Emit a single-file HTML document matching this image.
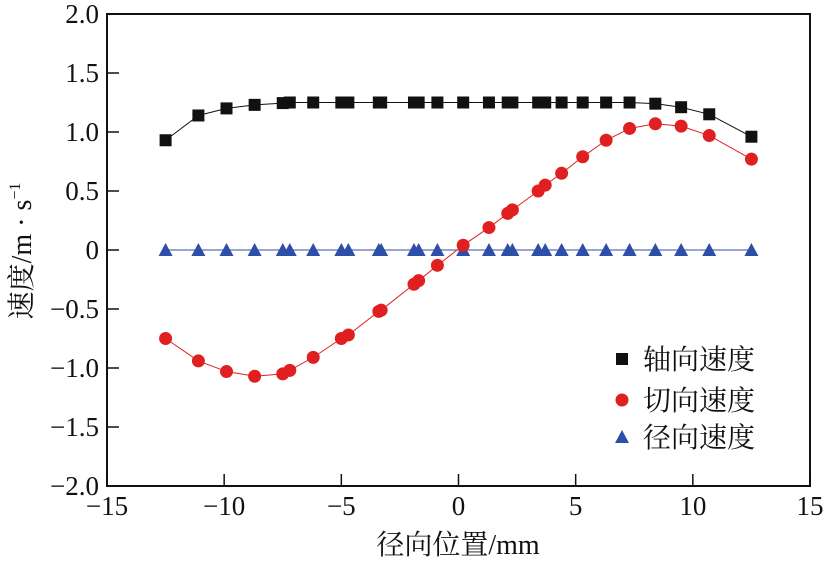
<!DOCTYPE html>
<html><head><meta charset="utf-8">
<style>
body{margin:0;background:#fff;}
text{font-family:"Liberation Serif","Noto Serif CJK SC",serif;fill:#111;}
</style></head>
<body>
<svg id="chart" width="827" height="563" xmlns="http://www.w3.org/2000/svg"></svg>
<script>
const xs=[-12.5,-11.1,-9.9,-8.7,-7.5,-7.2,-6.2,-5.0,-4.7,-3.4,-3.3,-1.9,-1.7,-0.9,0.2,1.3,2.1,2.3,3.4,3.7,4.4,5.3,6.3,7.3,8.4,9.5,10.7,12.5];
const axial=[0.93,1.14,1.20,1.23,1.245,1.25,1.25,1.25,1.25,1.25,1.25,1.25,1.25,1.25,1.25,1.25,1.25,1.25,1.25,1.25,1.25,1.25,1.25,1.25,1.24,1.21,1.15,0.96];
const tangential=[-0.75,-0.94,-1.03,-1.07,-1.05,-1.02,-0.91,-0.75,-0.72,-0.52,-0.51,-0.29,-0.26,-0.13,0.04,0.19,0.31,0.34,0.50,0.55,0.65,0.79,0.93,1.03,1.07,1.05,0.97,0.77];
const radial=[0,0,0,0,0,0,0,0,0,0,0,0,0,0,0,0,0,0,0,0,0,0,0,0,0,0,0,0];
const xTicks=[-15,-10,-5,0,5,10,15];
const yTicks=[2.0,1.5,1.0,0.5,0,-0.5,-1.0,-1.5,-2.0];
const yTickLabels=["2.0","1.5","1.0","0.5","0","\u22120.5","\u22121.0","\u22121.5","\u22122.0"];
const xTickLabels=["\u221215","\u221210","\u22125","0","5","10","15"];

const L=107,R=810,T=14,B=486;
const X=v=>L+(v+15)/30*(R-L);
const Y=v=>T+(2-v)/4*(B-T);
const svg=document.getElementById('chart');
const NS="http://www.w3.org/2000/svg";
const FF='Liberation Serif, Noto Serif CJK SC, serif';
function mk(tag,attrs,parent){const e=document.createElementNS(NS,tag);for(const k in attrs)e.setAttribute(k,attrs[k]);if(tag==='text')e.setAttribute('font-family',FF);(parent||svg).appendChild(e);return e;}

const frame=mk('rect',{x:L,y:T,width:R-L,height:B-T,fill:'none',stroke:'#111','stroke-width':2});



xTicks.forEach((t,i)=>{
  const ln=mk('line',{x1:X(t),x2:X(t),y1:B,y2:B-12,stroke:'#111','stroke-width':1.5});
  
  
  const tx=mk('text',{x:X(t),y:B+29,'text-anchor':'middle','font-size':27});
  tx.textContent=xTickLabels[i];
  
  
});
yTicks.forEach((t,i)=>{
  const ln=mk('line',{x1:L,x2:L+12,y1:Y(t),y2:Y(t),stroke:'#111','stroke-width':1.5});
  
  
  const tx=mk('text',{x:L-8,y:Y(t)+9,'text-anchor':'end','font-size':27});
  tx.textContent=yTickLabels[i];
  
  
});

function series(vals,color,shape,name){
  const g=mk('g',{});
  
  
  const pl=mk('polyline',{points:xs.map((x,i)=>X(x)+','+Y(vals[i])).join(' '),fill:'none',stroke:color,'stroke-width':1},g);
  
  
  xs.forEach((x,i)=>{
    const cx=X(x),cy=Y(vals[i]);let m;
    if(shape==='sq')m=mk('rect',{x:cx-6,y:cy-6,width:12,height:12,fill:color},g);
    else if(shape==='c')m=mk('circle',{cx:cx,cy:cy,r:6.5,fill:color},g);
    else m=mk('polygon',{points:`${cx},${cy-7} ${cx-7},${cy+6} ${cx+7},${cy+6}`,fill:color},g);
    
    
  });
}
series(radial,'#2e4fa8','tri','radial');
series(tangential,'#e02020','c','tangential');
series(axial,'#111','sq','axial');

const leg=[['sq','#111','轴向速度',359],['c','#e02020','切向速度',400],['tri','#2e4fa8','径向速度',437]];
leg.forEach(([s,c,label,y])=>{
  const cx=622;let m;
  if(s==='sq')m=mk('rect',{x:cx-6,y:y-6,width:12,height:12,fill:c});
  else if(s==='c')m=mk('circle',{cx:cx,cy:y,r:6.5,fill:c});
  else m=mk('polygon',{points:`${cx},${y-7} ${cx-7},${y+6} ${cx+7},${y+6}`,fill:c});
  
  
  const t=mk('text',{x:643,y:y+10,'font-size':28});
  t.textContent=label;
  
  
});

const xl=mk('text',{x:458,y:554,'text-anchor':'middle','font-size':28});
xl.textContent='径向位置/mm';


const yl=mk('text',{x:0,y:0,'text-anchor':'middle','font-size':28,transform:'translate(31,251) rotate(-90)'});
yl.innerHTML='速度/m · s<tspan dy="-11" font-size="16">−1</tspan>';


</script>
</body></html>
